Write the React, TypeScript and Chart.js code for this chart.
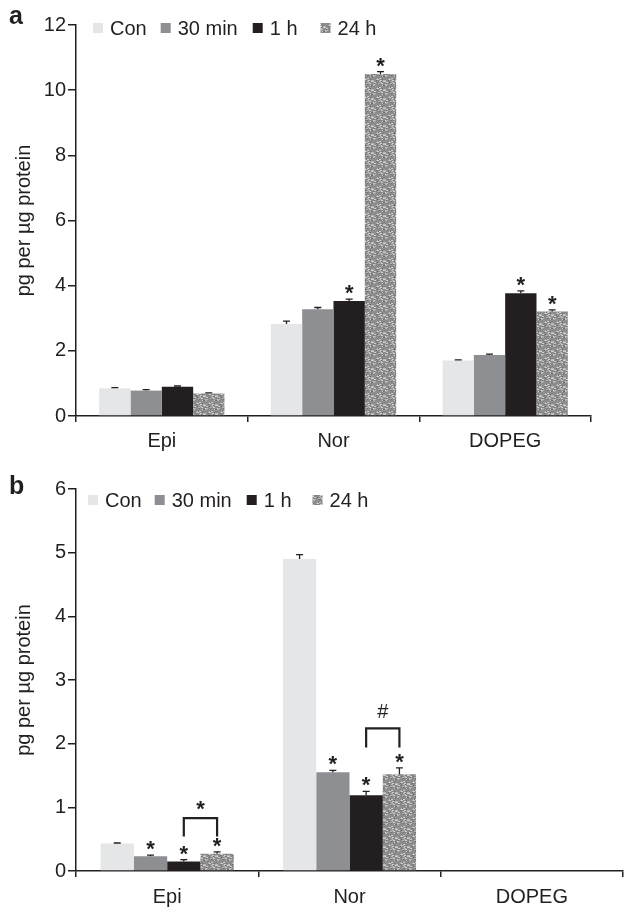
import React, { useEffect, useRef } from 'react';
import { Chart, registerables } from 'chart.js';

Chart.register(...registerables);

// ---------- data ----------
const categories = ['Epi', 'Nor', 'DOPEG'];
const seriesLabels = ['Con', '30 min', '1 h', '24 h'];

// panel a
const aTicks = [0, 2, 4, 6, 8, 10, 12];
const aCon = [0.85, 2.82, 1.70];
const a30min = [0.78, 3.28, 1.87];
const a1h = [0.90, 3.53, 3.77];
const a24h = [0.69, 10.5, 3.21];
const aConErr = [0.02, 0.09, 0.02];
const a30minErr = [0.03, 0.05, 0.03];
const a1hErr = [0.02, 0.06, 0.07];
const a24hErr = [0.02, 0.07, 0.05];
const aStars = [[1, 2], [1, 3], [2, 2], [2, 3]]; // [category, series]

// panel b
const bTicks = [0, 1, 2, 3, 4, 5, 6];
const bCon = [0.43, 4.90, null];
const b30min = [0.23, 1.55, null];
const b1h = [0.15, 1.19, null];
const b24h = [0.27, 1.52, null];
const bConErr = [0.01, 0.07, null];
const b30minErr = [0.02, 0.03, null];
const b1hErr = [0.03, 0.06, null];
const b24hErr = [0.03, 0.10, null];
const bStars = [[0, 1], [0, 2], [0, 3], [1, 1], [1, 2], [1, 3]];
const bBrackets = [
  { cat: 0, from: 2, to: 3, top: 0.83, bottom: 0.54, mark: '*' },
  { cat: 1, from: 2, to: 3, top: 2.24, bottom: 1.94, mark: '#' },
];

const yTitle = 'pg per µg protein';

// ---------- style ----------
const INK = '#231f20';
const FONT = '"Liberation Sans", Arial, Helvetica, sans-serif';
const conColor = '#e5e6e8';
const min30Color = '#8e8f93';
const h1Color = '#231f20';

function makeNoise(ctx: CanvasRenderingContext2D) {
  const c = document.createElement('canvas');
  c.width = 12;
  c.height = 9;
  const g = c.getContext('2d') as CanvasRenderingContext2D;
  g.fillStyle = '#8c8c8c';
  g.fillRect(0, 0, 12, 9);
  for (let y = 0; y < 9; y++) {
    for (let x = 0; x < 12; x++) {
      const h = (x * 7 + y * 13 + x * y * 3) % 11;
      if (h === 0) {
        g.fillStyle = '#cfcfcf';
        g.fillRect(x, y, 2, 1);
      } else if (h === 5) {
        g.fillStyle = '#b4b4b4';
        g.fillRect(x, y, 2, 1);
      } else if (h === 8) {
        g.fillStyle = '#6c6c6c';
        g.fillRect(x, y, 1, 1);
      }
    }
  }
  return ctx.createPattern(c, 'repeat') as CanvasPattern;
}

type PanelCfg = {
  letter: string;
  letterBaseline: number;
  top: number;
  height: number;
  padTop: number;
  padRight: number;
  xHeight: number;
  xPad: number;
  ticks: number[];
  series: (number | null)[][];
  errors: (number | null)[][];
  stars: number[][];
  brackets: { cat: number; from: number; to: number; top: number; bottom: number; mark: string }[];
  legendX: number;
  legendY: number;
  legendGaps: number[];
};

const panelA: PanelCfg = {
  letter: 'a',
  letterBaseline: 24,
  top: 0,
  height: 460,
  padTop: 25,
  padRight: 36,
  xHeight: 44,
  xPad: 7,
  ticks: aTicks,
  series: [aCon, a30min, a1h, a24h],
  errors: [aConErr, a30minErr, a1hErr, a24hErr],
  stars: aStars,
  brackets: [],
  legendX: 93,
  legendY: 28,
  legendGaps: [14, 15, 23],
};

const panelB: PanelCfg = {
  letter: 'b',
  letterBaseline: 34,
  top: 460,
  height: 450,
  padTop: 29,
  padRight: 4,
  xHeight: 39,
  xPad: 8,
  ticks: bTicks,
  series: [bCon, b30min, b1h, b24h],
  errors: [bConErr, b30minErr, b1hErr, b24hErr],
  stars: bStars,
  brackets: bBrackets,
  legendX: 88,
  legendY: 40,
  legendGaps: [13, 15, 21],
};

function Panel({ cfg }: { cfg: PanelCfg }) {
  const ref = useRef<HTMLCanvasElement>(null);

  useEffect(() => {
    const canvas = ref.current as HTMLCanvasElement;
    const ctx0 = canvas.getContext('2d') as CanvasRenderingContext2D;
    const noise = makeNoise(ctx0);
    const colors: (string | CanvasPattern)[] = [conColor, min30Color, h1Color, noise];

    const decor = {
      id: 'decor',
      afterDatasetsDraw(chart: any) {
        const ctx = chart.ctx as CanvasRenderingContext2D;
        const ys = chart.scales.y;
        ctx.save();
        ctx.strokeStyle = INK;
        ctx.fillStyle = INK;
        // error bars
        ctx.lineWidth = 1.3;
        chart.data.datasets.forEach((ds: any, i: number) => {
          const meta = chart.getDatasetMeta(i);
          meta.data.forEach((el: any, j: number) => {
            const v = ds.data[j];
            const e = cfg.errors[i][j];
            if (v == null || e == null) return;
            const t = ys.getPixelForValue(v + e);
            ctx.beginPath();
            ctx.moveTo(el.x, el.y);
            ctx.lineTo(el.x, t);
            ctx.moveTo(el.x - 3.5, t);
            ctx.lineTo(el.x + 3.5, t);
            ctx.stroke();
          });
        });
        // stars
        ctx.font = `bold 22px ${FONT}`;
        ctx.textAlign = 'center';
        ctx.textBaseline = 'alphabetic';
        cfg.stars.forEach(([c, s]) => {
          const el = chart.getDatasetMeta(s).data[c];
          const v = cfg.series[s][c] as number;
          const e = (cfg.errors[s][c] as number) || 0;
          const t = ys.getPixelForValue(v + e);
          ctx.fillText('*', el.x, t + 1);
        });
        // brackets
        ctx.lineWidth = 2.2;
        cfg.brackets.forEach((b) => {
          const x1 = chart.getDatasetMeta(b.from).data[b.cat].x;
          const x2 = chart.getDatasetMeta(b.to).data[b.cat].x;
          const yt = ys.getPixelForValue(b.top);
          const yb = ys.getPixelForValue(b.bottom);
          ctx.beginPath();
          ctx.moveTo(x1, yb);
          ctx.lineTo(x1, yt);
          ctx.lineTo(x2, yt);
          ctx.lineTo(x2, yb);
          ctx.stroke();
          if (b.mark === '#') {
            ctx.font = `20px ${FONT}`;
            ctx.fillText('#', (x1 + x2) / 2, yt - 10);
          } else {
            ctx.font = `bold 22px ${FONT}`;
            ctx.fillText(b.mark, (x1 + x2) / 2, yt - 2);
          }
        });
        ctx.restore();
      },
      afterDraw(chart: any) {
        const ctx = chart.ctx as CanvasRenderingContext2D;
        ctx.save();
        // panel letter
        ctx.fillStyle = INK;
        ctx.font = `bold 25px ${FONT}`;
        ctx.textAlign = 'left';
        ctx.textBaseline = 'alphabetic';
        ctx.fillText(cfg.letter, 9, cfg.letterBaseline);
        // legend
        ctx.font = `20px ${FONT}`;
        ctx.textBaseline = 'middle';
        let x = cfg.legendX;
        chart.data.datasets.forEach((ds: any, i: number) => {
          ctx.fillStyle = ds.backgroundColor;
          ctx.fillRect(x, cfg.legendY - 5, 10, 10);
          ctx.fillStyle = INK;
          ctx.fillText(ds.label, x + 17, cfg.legendY + 1);
          const w = ctx.measureText(ds.label).width;
          x += 17 + w + (cfg.legendGaps[i] || 14);
        });
        ctx.restore();
      },
    };

    const t = cfg.ticks;
    const chart = new Chart(canvas, {
      type: 'bar',
      data: {
        labels: categories,
        datasets: seriesLabels.map((lab, i) => ({
          label: lab,
          data: cfg.series[i] as any,
          backgroundColor: colors[i] as any,
          borderWidth: 0,
          categoryPercentage: 0.73,
          barPercentage: 1.0,
        })),
      },
      options: {
        animation: false,
        responsive: false,
        devicePixelRatio: 1,
        events: [],
        layout: { padding: { top: cfg.padTop, right: cfg.padRight, left: 0, bottom: 0 } },
        plugins: { legend: { display: false }, tooltip: { enabled: false }, title: { display: false } },
        scales: {
          x: {
            type: 'category',
            offset: true,
            grid: {
              display: true,
              drawOnChartArea: false,
              drawTicks: true,
              tickLength: 6,
              offset: true,
              color: INK,
              lineWidth: 1.5,
            },
            border: { display: true, color: INK, width: 1.5 },
            ticks: { color: INK, font: { family: FONT, size: 20 }, padding: cfg.xPad, maxRotation: 0, autoSkip: false },
            afterFit: (s: any) => {
              s.height = cfg.xHeight;
            },
          },
          y: {
            min: t[0],
            max: t[t.length - 1],
            ticks: { stepSize: t[1] - t[0], color: INK, font: { family: FONT, size: 20 }, padding: 2 },
            grid: { drawOnChartArea: false, drawTicks: true, tickLength: 8, color: INK, lineWidth: 1.5 },
            border: { display: true, color: INK, width: 1.5 },
            title: {
              display: true,
              text: yTitle,
              color: INK,
              font: { family: FONT, size: 20 },
              padding: { top: 12, bottom: 0 },
            },
            afterFit: (s: any) => {
              s.width = 76;
            },
          },
        },
      } as any,
      plugins: [decor],
    });
    return () => chart.destroy();
  }, [cfg]);

  return (
    <canvas
      ref={ref}
      width={627}
      height={cfg.height}
      style={{ position: 'absolute', left: 0, top: cfg.top, width: 627, height: cfg.height, display: 'block' }}
    />
  );
}

export default function App() {
  return (
    <div
      style={{
        position: 'absolute',
        left: 0,
        top: 0,
        width: 627,
        height: 910,
        overflow: 'hidden',
        background: '#ffffff',
      }}
    >
      <Panel cfg={panelA} />
      <Panel cfg={panelB} />
    </div>
  );
}
